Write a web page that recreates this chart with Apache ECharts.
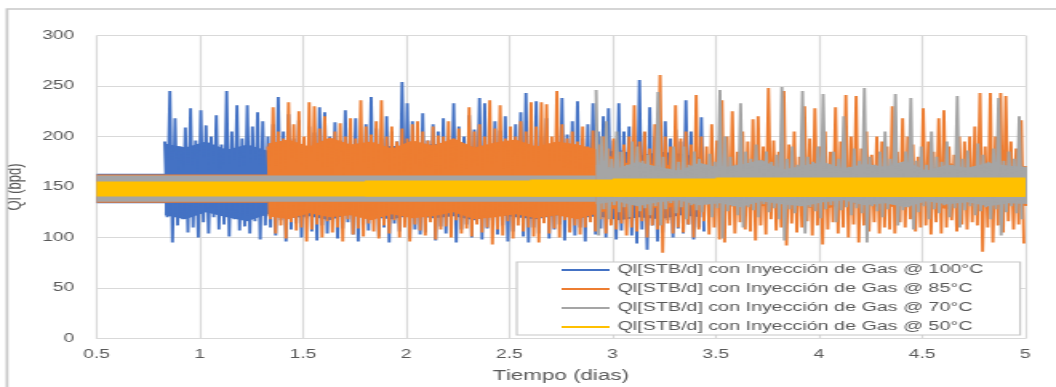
<!DOCTYPE html>
<html><head><meta charset="utf-8">
<script src="https://cdn.jsdelivr.net/npm/echarts@6/dist/echarts.min.js"></script>
<style>
html,body{margin:0;padding:0;background:#fff;overflow:hidden}
#wrap{width:1056px;height:387px;overflow:hidden;position:relative}
#c{width:660px;height:387px;transform:scaleX(1.6);transform-origin:0 0}
</style>
</head><body><div id="wrap"><div id="c"></div></div>
<script>
// ---- Legend / series names ----
const seriesNames = [
  'Ql[STB/d] con Inyección de Gas @ 100°C',
  'Ql[STB/d] con Inyección de Gas @ 85°C',
  'Ql[STB/d] con Inyección de Gas @ 70°C',
  'Ql[STB/d] con Inyección de Gas @ 50°C'
];
const seriesColors = ['#4472C4', '#ED7D31', '#A5A5A5', '#FFC000'];

// ---- Time grid of the oscillating part (days): peak at start + k*pairStep, trough half a step later ----
const pairStep = 0.025;
// ---- Time grid of the dense-fill envelope (days) ----
const envStep = 0.1;

// 100°C (blue) oscillation, from 0.83 d
const blueStart = 0.83;
const blueHi = [195,245,218,190,209,228,196,226,211,200,221,192,245,205,231,198,231,210,224,215,
  200,212,239,205,222,198,216,190,210,204,
  229,224,200,214,196,226,205,218,193,212,
  239,208,198,220,205,195,254,233,215,200,
  223,196,212,205,218,192,233,210,200,221,
  207,238,233,198,215,206,220,195,212,224,
  243,205,235,200,218,192,210,238,202,215,
  235,198,212,233,205,220,228,196,233,205,
  210,192,256,204,229,200,188,215,198,207,
  195,236,205,190,219];
const blueLo = [120,95,112,118,105,110,100,115,104,120,108,113,101,118,107,111,104,116,98,112,
  110,102,117,96,108,114,100,119,106,97,112,104,118,99,109,115,103,96,113,107,
  118,101,110,95,114,106,120,99,108,103,105,116,97,111,104,119,95,108,113,100,
  115,98,109,117,103,112,96,106,118,101,95,110,104,115,99,108,113,97,106,102,
  110,96,116,103,109,100,114,98,107,118,102,94,108,88,112,96,105,117,100,109,
  104,113,98,110,106];
const blueEnvTop = [193,189,195,187,192,186,191,188,193,189,185,191,187,193,188,190,186,192,189,185,188,183,187,181,185,183,179];
const blueEnvBot = [122,118,125,120,116,123,119,121,117,124,120,118,122,119,121,117,123,120,118,122,119,121,117,120,118,122,120];

// 85°C (orange) oscillation, from 1.33 d
const orangeStart = 1.33;
const orangeHi = [190,229,205,198,234,212,225,200,234,230,
  208,220,195,205,213,200,218,198,236,210,
  202,215,236,200,210,195,208,198,212,215,
  205,196,210,201,200,215,198,208,192,229,
  205,212,200,236,208,231,198,210,200,215,
  205,234,210,234,232,200,245,212,198,205,
  195,210,190,206,192,200,188,198,185,192,
  200,231,195,205,188,212,261,200,190,231,
  198,205,192,241,200,190,212,196,236,200,
  225,185,205,195,217,220,190,248,196,185,
  245,192,205,180,230,198,228,190,205,185,
  229,195,241,200,240,188,205,182,200,195,
  190,230,185,218,200,192,180,228,195,185,
  218,226,190,182,200,195,200,210,243,190,
  243,200,243,240,195,188,216];
const orangeLo = [118,104,112,99,115,107,110,96,108,113,
  100,116,105,110,96,118,103,109,101,114,
  106,99,112,104,117,100,110,96,113,107,
  102,115,98,108,111,100,117,104,109,101,
  113,105,110,93,108,102,116,99,112,106,
  110,101,95,114,104,109,100,117,105,112,
  103,110,115,106,118,104,112,108,114,102,
  110,106,116,100,112,108,85,114,104,110,
  105,113,100,108,116,103,110,98,95,112,
  104,115,108,106,97,112,103,118,107,110,
  92,114,105,110,116,102,112,93,108,115,
  104,110,100,113,95,112,106,115,104,110,
  108,104,115,110,118,106,110,112,103,115,
  104,110,117,106,113,108,115,112,86,110,
  95,112,105,116,108,113,94];
const orangeEnvTop = [193,197,190,199,192,195,188,196,191,198,189,194,197,190,195,192,187,
  176,170,174,168,172,166,175,169,171,167,173,168,170,165,172,168,174,167,170,172,170];
const orangeEnvBot = [121,118,124,120,122,117,123,119,121,125,118,120,123,119,122,118,124,
  130,134,128,132,135,129,133,131,136,130,128,134,132,129,135,131,128,133,130,132,131];

// 70°C (gray) oscillation, from 2.92 d
const grayStart = 2.92;
const grayHi = [246,200,215,178,205,185,172,195,190,176,
  182,170,244,180,168,190,175,190,172,185,
  178,168,183,175,246,200,180,172,233,185,
  178,192,170,185,175,182,249,178,190,172,
  245,180,175,190,242,172,185,178,220,170,
  188,176,248,180,172,185,205,178,242,170,
  185,238,176,190,172,205,180,175,195,172,
  240,178,186,170,193,182,175,188,238,176,
  185,178,220];
const grayLo = [102,128,118,132,125,130,120,133,126,129,
  122,131,112,128,134,124,130,118,132,127,
  125,133,120,129,99,126,131,122,110,130,
  127,120,133,125,129,118,97,128,124,131,
  104,130,126,119,128,132,115,127,130,122,
  129,124,95,131,126,120,128,133,112,127,
  130,108,125,131,118,128,124,132,120,129,
  110,127,131,122,126,130,118,128,102,125,
  131,124,118];
const grayEnvTop = [172,168,175,170,166,174,169,172,177,167,171,175,168,173,170,176,166,172,169,174,171,170];
const grayEnvBot = [133,136,131,135,137,132,134,130,136,133,131,135,137,132,134,130,136,133,135,131,134,133];

// Quiet (narrow) bands: [from day, to day, low, high]
const blueBands   = [[0.5, 0.83, 134, 163]];
const orangeBands = [[0.5, 1.33, 134.5, 162.5]];
const grayBands   = [[0.5, 2.92, 135.5, 161.5]];
const yellowBands = [[0.5, 5.0, 140.5, 155.5], [1.8, 5.0, 140.5, 156.5], [2.6, 5.0, 140.5, 157.5],
                     [3.0, 5.0, 140.5, 158.5], [3.5, 5.0, 140.5, 159.5]];

// Axis
const xMin = 0.5, xMax = 5, xInterval = 0.5;
const yMin = 0, yMax = 300, yInterval = 50;
const xTitle = 'Tiempo (dias)';
const yTitle = 'Ql (bpd)';

// ---------------------------------------------------------------
const FONT = "'Liberation Sans', Arial, sans-serif";
const TXT = '#595959';

function zigzag(start, hi, lo) {
  const out = [];
  const n = Math.min(hi.length, lo.length);
  for (let k = 0; k < n; k++) {
    out.push([start + k * pairStep, hi[k]]);
    out.push([start + k * pairStep + pairStep / 2, lo[k]]);
  }
  return out;
}
function bandItem(params, api) {
  const p0 = api.coord([api.value(0), api.value(3)]);
  const p1 = api.coord([api.value(1), api.value(2)]);
  return {type: 'rect',
    shape: {x: p0[0], y: p0[1], width: p1[0] - p0[0], height: p1[1] - p0[1]},
    style: {fill: api.visual('color')}};
}
function lineSeries(i, data, z) {
  return {name: seriesNames[i], type: 'line', data: data, z: z, symbol: 'none', showSymbol: false,
    sampling: null, animation: false, clip: true,
    lineStyle: {color: seriesColors[i], width: 1.9, join: 'miter'},
    itemStyle: {color: seriesColors[i]}};
}
function bandSeries(i, data, z) {
  return {name: seriesNames[i], type: 'custom', data: data, z: z, renderItem: bandItem,
    encode: {x: [0, 1], y: [2, 3]}, clip: true, animation: false, silent: true,
    itemStyle: {color: seriesColors[i]}};
}
function envelopeSeries(i, start, tops, bots, z) {
  return {name: seriesNames[i], type: 'custom', data: [[start, tops[0]]], z: z, clip: true,
    animation: false, silent: true, itemStyle: {color: seriesColors[i]},
    renderItem: function (params, api) {
      const pts = [];
      for (let k = 0; k < tops.length; k++) pts.push(api.coord([start + k * envStep, tops[k]]));
      for (let k = bots.length - 1; k >= 0; k--) pts.push(api.coord([start + k * envStep, bots[k]]));
      return {type: 'polygon', shape: {points: pts}, style: {fill: seriesColors[i]}};
    }};
}

const chart = echarts.init(document.getElementById('c'), null, {renderer: 'canvas'});
chart.setOption({
  animation: false,
  backgroundColor: '#fff',
  grid: {left: 60.4, right: 19.1, top: 35.5, bottom: 48.5, containLabel: false, outerBoundsMode: 'none'},
  xAxis: {type: 'value', min: xMin, max: xMax, interval: xInterval,
    name: xTitle, nameLocation: 'middle', nameGap: 31,
    nameTextStyle: {fontFamily: FONT, fontSize: 14, color: TXT},
    axisLine: {show: true, lineStyle: {color: '#d9d9d9', width: 1.2}},
    axisTick: {show: false},
    axisLabel: {fontFamily: FONT, fontSize: 12, color: TXT, margin: 10},
    splitLine: {show: true, lineStyle: {color: '#d9d9d9', width: 1.2}}},
  yAxis: {type: 'value', min: yMin, max: yMax, interval: yInterval,
    name: yTitle, nameLocation: 'middle', nameGap: 37, nameRotate: 90,
    nameTextStyle: {fontFamily: FONT, fontSize: 13, color: TXT},
    axisLine: {show: false}, axisTick: {show: false},
    axisLabel: {fontFamily: FONT, fontSize: 12, color: TXT, margin: 14},
    splitLine: {show: true, lineStyle: {color: '#d9d9d9', width: 1.2}}},
  legend: {orient: 'vertical', left: 323, top: 262, padding: [1, 23, 1, 28], itemGap: 5,
    itemWidth: 30, itemHeight: 2, icon: 'rect', borderColor: '#c8c8c8', borderWidth: 1.2,
    backgroundColor: '#fff', z: 20,
    textStyle: {fontFamily: FONT, fontSize: 12.3, color: TXT, lineHeight: 14},
    data: seriesNames.map((n, i) => ({name: n, icon: 'rect', itemStyle: {color: seriesColors[i]}}))},
  graphic: [{type: 'rect', silent: true, z: 100,
    shape: {x: 4.4, y: 9, width: 2000, height: 1000},
    style: {fill: 'none', stroke: '#c8c8c8', lineWidth: 1.7}}],
  series: [
    lineSeries(0, zigzag(blueStart, blueHi, blueLo), 2),
    lineSeries(1, zigzag(orangeStart, orangeHi, orangeLo), 3),
    lineSeries(2, zigzag(grayStart, grayHi, grayLo), 4),
    bandSeries(3, yellowBands, 5),
    envelopeSeries(0, blueStart, blueEnvTop, blueEnvBot, 2),
    envelopeSeries(1, orangeStart, orangeEnvTop, orangeEnvBot, 3),
    envelopeSeries(2, grayStart, grayEnvTop, grayEnvBot, 4),
    bandSeries(0, blueBands, 2),
    bandSeries(1, orangeBands, 3),
    bandSeries(2, grayBands, 4)
  ]
});
</script>
</body></html>
